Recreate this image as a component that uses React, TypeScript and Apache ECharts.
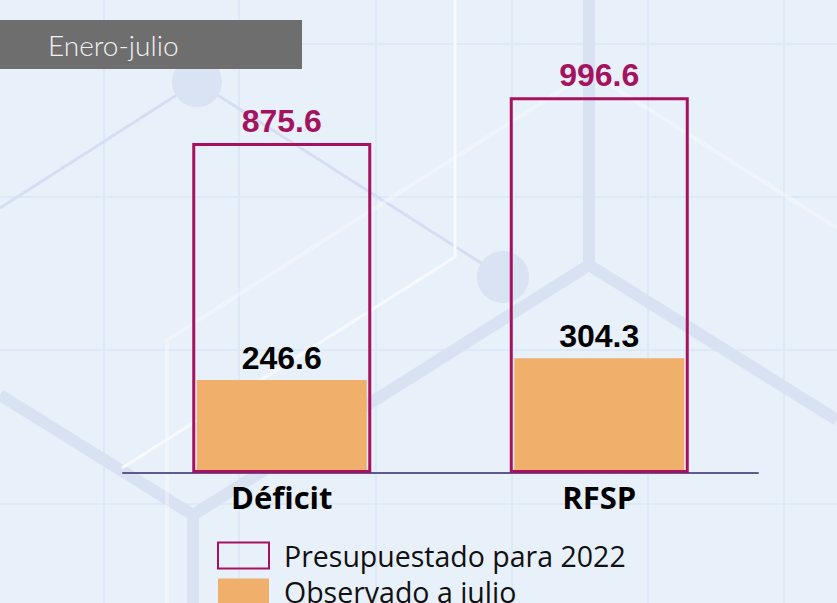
import React, { useEffect, useRef } from "react";
import * as echarts from "echarts";

const categories = ["Déficit", "RFSP"];
const presupuestado = [875.6, 996.6];
const observado = [246.6, 304.3];
const seriesNames = ["Presupuestado para 2022", "Observado a julio"];
const periodLabel = "Enero-julio";

const gridColor = "#dde9f7";
const hexThick = "#d9e2f3";
const hexThin = "#d5def2";
const hexWhite = "#f7faff";

function decorations(): any[] {
  const els: any[] = [];
  [104, 239, 376, 512, 648, 784].forEach((x) =>
    els.push({ type: "line", silent: true, z: 0, shape: { x1: x, y1: 0, x2: x, y2: 603 }, style: { stroke: gridColor, lineWidth: 2 } })
  );
  [44, 197, 350, 504].forEach((y) =>
    els.push({ type: "line", silent: true, z: 0, shape: { x1: 0, y1: y, x2: 837, y2: y }, style: { stroke: gridColor, lineWidth: 2 } })
  );
  // thick hexagon lines
  els.push({ type: "polyline", silent: true, z: 1, shape: { points: [[0, 395], [193, 515], [589, 265]] }, style: { stroke: hexThick, lineWidth: 12, fill: null } });
  els.push({ type: "line", silent: true, z: 1, shape: { x1: 193, y1: 515, x2: 193, y2: 603 }, style: { stroke: hexThick, lineWidth: 12 } });
  els.push({ type: "polyline", silent: true, z: 1, shape: { points: [[589, 0], [589, 265], [837, 420]] }, style: { stroke: hexThick, lineWidth: 12, fill: null } });
  // thin lavender lines
  els.push({ type: "polyline", silent: true, z: 1, shape: { points: [[0, 208], [197, 82], [503, 277]] }, style: { stroke: hexThin, lineWidth: 3, fill: null } });
  els.push({ type: "circle", silent: true, z: 1, shape: { cx: 197, cy: 82, r: 25 }, style: { fill: "#d9e3f4" } });
  els.push({ type: "circle", silent: true, z: 1, shape: { cx: 503, cy: 277, r: 26 }, style: { fill: "#d9e3f4" } });
  // white lines
  els.push({ type: "polyline", silent: true, z: 1, shape: { points: [[455, 0], [455, 257], [122, 468]] }, style: { stroke: hexWhite, lineWidth: 3, fill: null } });
  els.push({ type: "polyline", silent: true, z: 1, shape: { points: [[167, 603], [167, 340], [590, 72], [837, 228]] }, style: { stroke: "#ffffff", lineWidth: 4, fill: null, opacity: 0.35 } });
  // period tag
  els.push({ type: "rect", silent: true, z: 5, shape: { x: 0, y: 20, width: 302, height: 49 }, style: { fill: "#6e6e6e" } });
  els.push({
    type: "text", silent: true, z: 6, x: 48, y: 44.5,
    style: { text: periodLabel, fill: "#f2f2f2", font: "300 28px Lato, 'Open Sans', sans-serif", textVerticalAlign: "middle" },
  });
  return els;
}

export default function App() {
  const ref = useRef<HTMLDivElement>(null);
  useEffect(() => {
    if (!ref.current) return;
    const chart = echarts.init(ref.current, null, { renderer: "svg" });
    const valueLabel = (color: string) => ({
      show: true, position: "top", distance: 6, color, fontSize: 32, fontWeight: "bold",
      fontFamily: "'Liberation Sans', Arial, sans-serif", formatter: (p: any) => p.value.toFixed(1),
    });
    chart.setOption({
      animation: false,
      backgroundColor: "#e8f0fa",
      graphic: decorations(),
      grid: { left: 123, width: 635, top: 96, bottom: 130 },
      legend: {
        orient: "vertical",
        left: 212,
        top: 536,
        height: 120,
        itemWidth: 51,
        itemHeight: 26,
        itemGap: 7,
        icon: "rect",
        data: seriesNames,
        textStyle: { fontSize: 28.5, color: "#111", fontFamily: "'Open Sans', sans-serif", padding: [0, 0, 0, 10] },
      },
      xAxis: [
        {
          type: "category",
          data: categories,
          z: 5,
          axisLine: { lineStyle: { color: "#5e5a8c", width: 2 } },
          axisTick: { show: false },
          axisLabel: { color: "#000", fontSize: 31, fontWeight: "bold", fontFamily: "'Open Sans', sans-serif", margin: 8 },
        },
        { type: "category", data: categories, show: false },
      ],
      yAxis: { type: "value", min: 0, max: 1000, show: false, splitLine: { show: false } },
      series: [
        {
          name: seriesNames[1],
          type: "bar",
          xAxisIndex: 1,
          data: observado,
          barWidth: 170,
          z: 2,
          itemStyle: { color: "#f0b06c" },
          label: valueLabel("#000"),
        },
        {
          name: seriesNames[0],
          type: "bar",
          xAxisIndex: 0,
          data: presupuestado,
          barWidth: 179,
          z: 6,
          itemStyle: { color: "rgba(0,0,0,0)", borderColor: "#a8115f", borderWidth: 3 },
          label: valueLabel("#a3135f"),
        },
      ],
    });
    return () => chart.dispose();
  }, []);
  return <div ref={ref} style={{ position: "fixed", left: 0, top: 0, width: 837, height: 603 }} />;
}
